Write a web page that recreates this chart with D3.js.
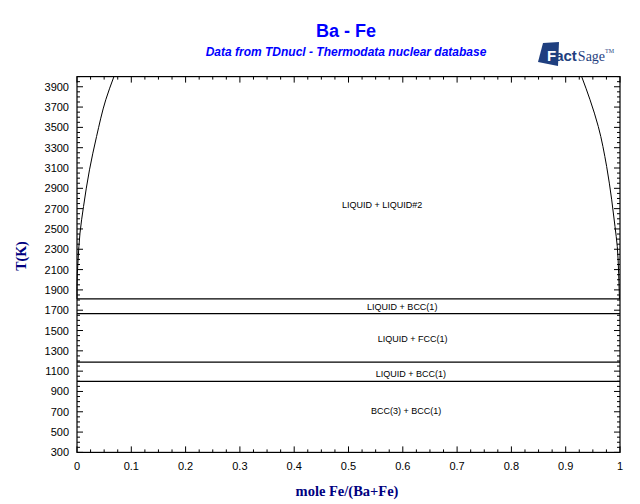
<!DOCTYPE html>
<html><head><meta charset="utf-8">
<script src="https://cdn.jsdelivr.net/npm/d3@7"></script>
<style>body{margin:0;background:#fff}svg{display:block}</style>
</head><body>
<script>
// Data
const xDomain = [0, 1];
const tDomain = [300, 4000];
const xTicks = [0,0.1,0.2,0.3,0.4,0.5,0.6,0.7,0.8,0.9,1];
const tTicks = [300,500,700,900,1100,1300,1500,1700,1900,2100,2300,2500,2700,2900,3100,3300,3500,3700,3900];
// invariant / transition temperatures (K)
const isotherms = [1811, 1667, 1188, 1000];
// miscibility gap boundaries [x, T]
const leftCurve = [[0,1811],[0.0,1932],[0.002,2196],[0.0055,2459],[0.012,2721],[0.023,3082],[0.036,3410],[0.053,3772],[0.068,4000]];
const rightCurve = [[0.999,1811],[0.9975,2065],[0.995,2327],[0.9908,2524],[0.9847,2787],[0.9754,3115],[0.960,3509],[0.9448,3772],[0.9294,4000]];
const regionLabels = [
  {text:"LIQUID + LIQUID#2", x:0.562, t:2737},
  {text:"LIQUID + BCC(1)", x:0.599, t:1735},
  {text:"LIQUID + FCC(1)", x:0.618, t:1420},
  {text:"LIQUID + BCC(1)", x:0.615, t:1075},
  {text:"BCC(3) + BCC(1)", x:0.606, t:705}
];

const W=640,H=504;
const svg=d3.select("body").append("svg").attr("width",W).attr("height",H);
const m={l:77,r:620,t:76.6,b:452.4};
const x=d3.scaleLinear().domain(xDomain).range([m.l,m.r]);
const y=d3.scaleLinear().domain(tDomain).range([m.b,m.t]);

// Titles
svg.append("text").attr("x",346).attr("y",37).attr("text-anchor","middle")
  .attr("font-family","Arial, 'Liberation Sans', sans-serif").attr("font-weight","bold")
  .attr("font-size",18).attr("fill","#0000ff").text("Ba - Fe");
svg.append("text").attr("x",346).attr("y",56).attr("text-anchor","middle")
  .attr("font-family","Arial, 'Liberation Sans', sans-serif").attr("font-weight","bold").attr("font-style","italic")
  .attr("font-size",12).attr("fill","#0000ff").text("Data from TDnucl - Thermodata nuclear database");

// Logo
const logo=svg.append("g").attr("transform","translate(538,42)");
logo.append("path").attr("d","M5,1 L21,0 L20,24 L0,20 Z").attr("fill","#1f3f7f");
const lt=logo.append("text").attr("x",9).attr("y",19).attr("fill","#1f3f7f");
lt.append("tspan").attr("font-family","Arial, 'Liberation Sans', sans-serif").attr("font-weight","bold")
  .attr("font-size",15).attr("fill","#ffffff").text("F");
lt.append("tspan").attr("font-family","Arial, 'Liberation Sans', sans-serif").attr("font-weight","bold")
  .attr("font-size",15).attr("dx",-1).text("act");
lt.append("tspan").attr("font-family","'Liberation Serif', serif").attr("font-size",14).attr("dx",1).text("Sage");
lt.append("tspan").attr("font-family","'Liberation Serif', serif").attr("font-size",6).attr("dy",-8).text("TM");

// Frame
svg.append("rect").attr("x",m.l).attr("y",m.t).attr("width",m.r-m.l).attr("height",m.b-m.t)
  .attr("fill","none").attr("stroke","#000").attr("stroke-width",1.2);

const g=svg.append("g");
// x ticks
const xMinor=d3.range(0,1.0001,0.025);
xMinor.forEach(v=>{
  const major=Math.abs(v*10-Math.round(v*10))<1e-6;
  const L=major?6:3;
  g.append("line").attr("x1",x(v)).attr("x2",x(v)).attr("y1",m.b).attr("y2",m.b-L).attr("stroke","#000");
  g.append("line").attr("x1",x(v)).attr("x2",x(v)).attr("y1",m.t).attr("y2",m.t+L).attr("stroke","#000");
});
const tMinor=d3.range(300,4000.1,50);
tMinor.forEach(v=>{
  const major=tTicks.includes(v);
  const L=major?6:3;
  g.append("line").attr("x1",m.l).attr("x2",m.l+L).attr("y1",y(v)).attr("y2",y(v)).attr("stroke","#000");
  g.append("line").attr("x1",m.r).attr("x2",m.r-L).attr("y1",y(v)).attr("y2",y(v)).attr("stroke","#000");
});
// tick labels
xTicks.forEach(v=>{
  g.append("text").attr("x",x(v)).attr("y",470).attr("text-anchor","middle")
   .attr("font-family","Arial, 'Liberation Sans', sans-serif").attr("font-size",11).text(d3.format("")(v));
});
tTicks.forEach(v=>{
  g.append("text").attr("x",69).attr("y",y(v)+4).attr("text-anchor","end")
   .attr("font-family","Arial, 'Liberation Sans', sans-serif").attr("font-size",11).text(v);
});

// axis titles
svg.append("text").attr("x",347).attr("y",496).attr("text-anchor","middle")
  .attr("font-family","'Times New Roman', 'Liberation Serif', serif").attr("font-weight","bold")
  .attr("font-size",14.5).attr("fill","#000080").text("mole Fe/(Ba+Fe)");
svg.append("text").attr("transform","translate(26,256) rotate(-90)").attr("text-anchor","middle")
  .attr("font-family","'Times New Roman', 'Liberation Serif', serif").attr("font-weight","bold")
  .attr("font-size",14).attr("fill","#000080").text("T(K)");

// isotherms
isotherms.forEach(t=>{
  g.append("line").attr("x1",x(0)).attr("x2",x(1)).attr("y1",y(t)).attr("y2",y(t))
   .attr("stroke","#000").attr("stroke-width",1.2);
});
// curves
const line=d3.line().x(d=>x(d[0])).y(d=>y(d[1])).curve(d3.curveMonotoneY);
[leftCurve,rightCurve].forEach(c=>{
  g.append("path").attr("d",line(c)).attr("fill","none").attr("stroke","#000").attr("stroke-width",1);
});
// region labels
regionLabels.forEach(r=>{
  g.append("text").attr("x",x(r.x)).attr("y",y(r.t)+3).attr("text-anchor","middle")
   .attr("font-family","Arial, 'Liberation Sans', sans-serif").attr("font-size",9).text(r.text);
});
</script>
</body></html>
